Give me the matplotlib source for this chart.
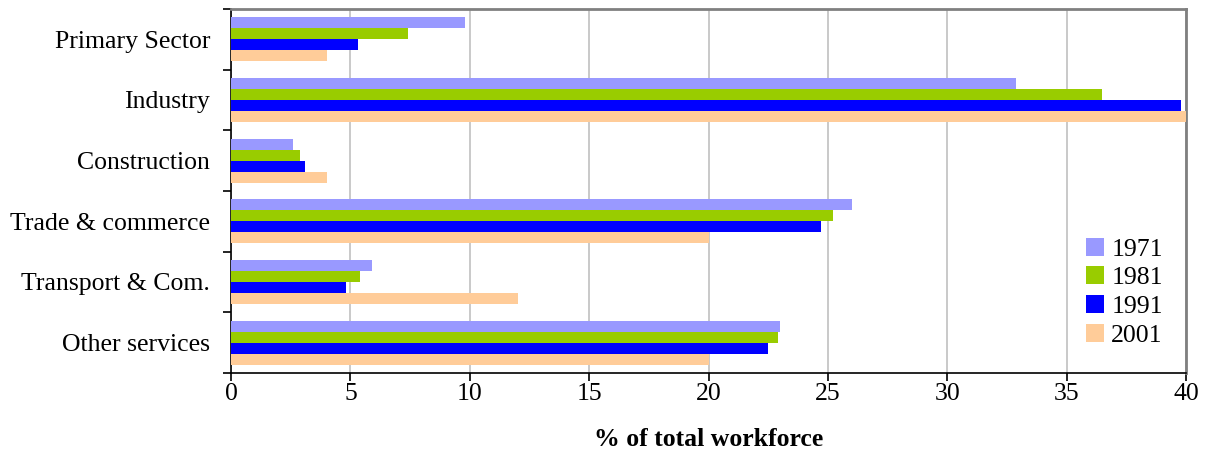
import numpy as np
import matplotlib
matplotlib.use("Agg")
import matplotlib.pyplot as plt

# workforce share by sector (%)
sectors = ["Primary Sector", "Industry", "Construction",
           "Trade & commerce", "Transport & Com.", "Other services"]
years = ["1971", "1981", "1991", "2001"]
share_1971 = [9.8, 32.9, 2.6, 26.0, 5.9, 23.0]
share_1981 = [7.4, 36.5, 2.9, 25.2, 5.4, 22.9]
share_1991 = [5.3, 39.8, 3.1, 24.7, 4.8, 22.5]
share_2001 = [4.0, 40.0, 4.0, 20.0, 12.0, 20.0]
colors = ["#9999ff", "#99cc00", "#0000ff", "#ffcc99"]

plt.rcParams['font.family'] = ['Liberation Serif', 'DejaVu Serif']

fig = plt.figure(figsize=(12.07, 4.70), dpi=100)
ax = fig.add_axes([0.1914, 0.2064, 0.7912, 0.7745])

pos = np.arange(len(sectors))
h = 0.181
series = [share_1971, share_1981, share_1991, share_2001]
for i, (vals, yr, c) in enumerate(zip(series, years, colors)):
    ax.barh(pos + (i - 1.5) * h, vals, height=h, color=c, label=yr,
            edgecolor='none', zorder=3)

ax.set_xlim(0, 40)
ax.set_ylim(len(sectors) - 0.5, -0.5)
ax.set_xticks(np.arange(0, 41, 5))
ax.xaxis.grid(True, color='#c0c0c0', linewidth=1.2, zorder=0)

ax.set_yticks(pos)
ax.set_yticklabels(sectors)
ax.set_yticks(np.arange(-0.5, len(sectors)), minor=True)
ax.tick_params(axis='y', which='major', length=0, pad=15, labelsize=18.5)
ax.tick_params(axis='y', which='minor', length=6, width=1.2, direction='out')
ax.tick_params(axis='x', length=6, width=1.2, direction='out', pad=1.5,
               labelsize=18.5)

for side in ['top', 'right']:
    ax.spines[side].set_color('#808080')
    ax.spines[side].set_linewidth(2)
for side in ['left', 'bottom']:
    ax.spines[side].set_color('black')
    ax.spines[side].set_linewidth(1.2)

ax.set_xlabel('% of total workforce', fontsize=18.5, fontweight='bold',
              labelpad=16)

ax.legend(loc='lower right', frameon=False, fontsize=18.5,
          handlelength=0.7, handleheight=0.7, handletextpad=0.3,
          labelspacing=0.22, bbox_to_anchor=(1.0, 0.009))

fig.savefig('out.png', dpi=100)
